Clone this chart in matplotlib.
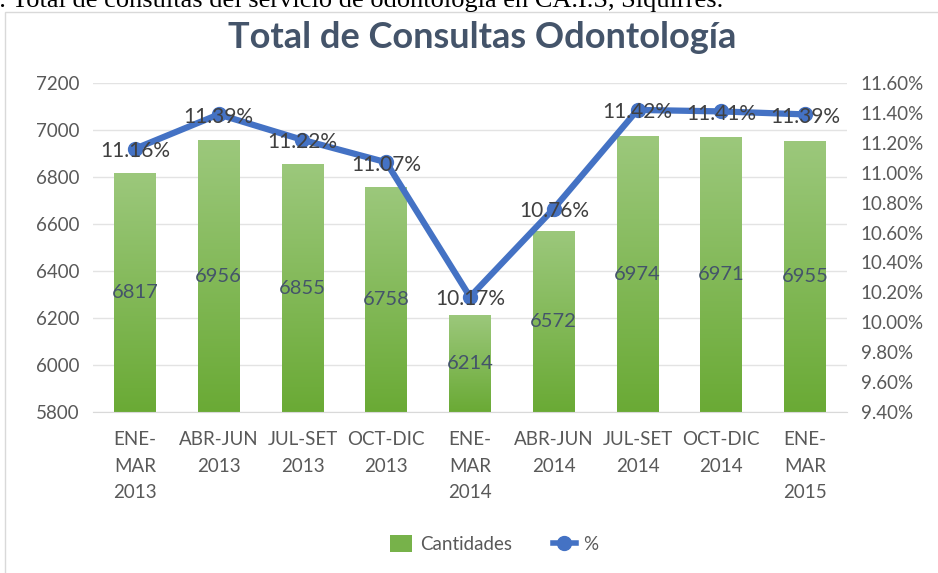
import matplotlib
matplotlib.use("Agg")
import matplotlib.pyplot as plt
import numpy as np
from matplotlib.patches import Rectangle, Patch
from matplotlib.lines import Line2D
from matplotlib.colors import LinearSegmentedColormap

categories = ["ENE-\nMAR\n2013", "ABR-JUN\n2013", "JUL-SET\n2013", "OCT-DIC\n2013",
              "ENE-\nMAR\n2014", "ABR-JUN\n2014", "JUL-SET\n2014", "OCT-DIC\n2014",
              "ENE-\nMAR\n2015"]
cantidades = [6817, 6956, 6855, 6758, 6214, 6572, 6974, 6971, 6955]
porcentajes = [11.16, 11.39, 11.22, 11.07, 10.17, 10.76, 11.42, 11.41, 11.39]

plt.rcParams['font.family'] = ['Lato', 'DejaVu Sans']
W, H = 938, 573
fig = plt.figure(figsize=(W/100, H/100), dpi=100)

# caption partially cut off at the top and left
fig.text(-14/W, 1 - 7/H, "1. Total de consultas del servicio de odontología en CA.I.S, Siquirres.",
         fontsize=19, family='Liberation Serif', color='black', va='baseline', ha='left')
# chart frame
fig.patches.append(Rectangle((5/W, -0.01), 1.0, 1 - 12/H + 0.01, transform=fig.transFigure,
                             fill=False, edgecolor='#d9d9d9', linewidth=1))

ax = fig.add_axes([93/W, 1 - 412/H, 754/W, 329/H])
x = np.arange(len(categories))
bars = ax.bar(x, cantidades, width=0.5, color='#77b24a', zorder=2)
ax.set_yticks(np.arange(5800, 7201, 200))
ax.grid(axis='y', color='#e3e3e3', linewidth=1, zorder=0)
for s in ax.spines.values():
    s.set_visible(False)
ax.spines['bottom'].set_visible(True)
ax.spines['bottom'].set_color('#d9d9d9')
ax.tick_params(axis='both', length=0, labelsize=13.5, colors='#595959')
ax.tick_params(axis='y', pad=10)
ax.set_xticks(x)
ax.set_xticklabels(categories, linespacing=1.65)
ax.tick_params(axis='x', pad=14)

# gradient fill for bars
grad = np.linspace(0, 1, 256).reshape(-1, 1)
cmap = LinearSegmentedColormap.from_list('g', ['#6aaa35', '#9cc87c'])
for b in bars:
    x0, y0 = b.get_x(), b.get_y()
    w, h = b.get_width(), b.get_height()
    b.set_facecolor('none')
    im = ax.imshow(grad, extent=[x0, x0 + w, 5800, y0 + h], origin='lower', cmap=cmap,
                   aspect='auto', zorder=2)
    im.set_clip_path(Rectangle((x0, 5800), w, y0 + h - 5800, transform=ax.transData))
ax.set_xlim(-0.5, len(categories) - 0.5)
ax.set_ylim(5800, 7200)

for xi, v in zip(x, cantidades):
    ax.text(xi, (5800 + v) / 2, str(v), ha='center', va='center', fontsize=14.5,
            color='#44546a', zorder=5)

ax2 = ax.twinx()
ax2.set_ylim(9.4, 11.6)
ticks2 = np.arange(9.4, 11.61, 0.2)
ax2.set_yticks(ticks2)
ax2.set_yticklabels([f"{t:.2f}%" for t in ticks2])
for s in ax2.spines.values():
    s.set_visible(False)
ax2.tick_params(axis='y', length=0, labelsize=13.5, colors='#595959', pad=10)
ax2.plot(x, porcentajes, color='#4472c4', linewidth=4.5, marker='o', markersize=10,
         zorder=4, solid_capstyle='round')
for xi, p in zip(x, porcentajes):
    ax2.text(xi, p - 0.015, f"{p:.2f}%", ha='center', va='center', fontsize=15,
             color='#404040', zorder=6)

fig.text(482/W, 1 - 38/H, "Total de Consultas Odontología", ha='center', va='center',
         fontsize=26, fontweight='bold', color='#44546a')

handles = [Patch(facecolor='#77b24a', edgecolor='none'),
           Line2D([0], [0], color='#4472c4', linewidth=4, marker='o', markersize=10)]
fig.legend(handles, ['Cantidades', '%'], loc='center', bbox_to_anchor=(494/W, 1 - 544/H),
           ncol=2, frameon=False, fontsize=13.5, labelcolor='#595959',
           handlelength=1.2, handleheight=1.0, columnspacing=2.2, handletextpad=0.4)

fig.savefig('out.png', dpi=100)
